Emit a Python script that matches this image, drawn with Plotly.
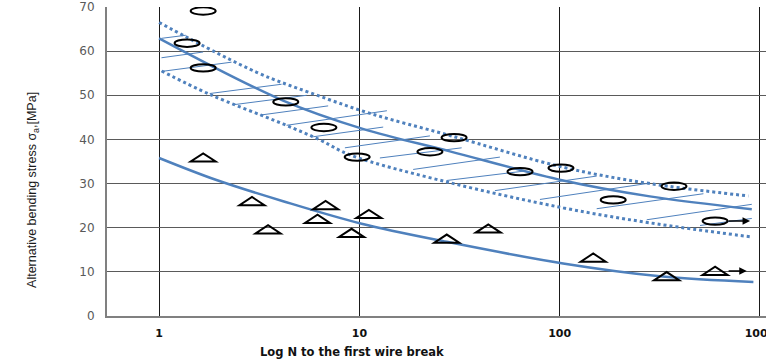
import numpy as np
import plotly.graph_objects as go

# ---------------- data ----------------
# test points, rope type A (circles)
circle_N = [1.66, 1.38, 1.66, 4.29, 6.65, 9.75, 22.5, 29.7, 63.4, 101.5, 372, 185, 597]
circle_sigma = [69.1, 61.8, 56.2, 48.5, 42.7, 36.0, 37.2, 40.4, 32.7, 33.5, 29.4, 26.3, 21.5]

# test points, rope type B (triangles)
tri_N = [1.66, 2.91, 3.50, 6.78, 6.18, 9.14, 11.15, 27.3, 44.0, 147, 342, 597]
tri_sigma = [35.9, 26.0, 19.6, 25.1, 22.0, 18.8, 23.1, 17.5, 19.8, 13.2, 9.0, 10.2]

# run-outs (arrows)
runout_start_N = [597, 597]
runout_end_N = [892, 859]
runout_sigma = [21.5, 10.2]

# mean curve, type A
upper_mean_N = [1, 4.16, 10.4, 28.3, 104, 282, 910]
upper_mean = [62.9, 48.8, 42.4, 37.3, 30.7, 27.1, 24.2]

# scatter band, type A
upper_band_N = [1, 3.07, 5.66, 11.3, 28.3, 104, 282, 875]
upper_band = [66.5, 55.2, 50.6, 45.9, 40.9, 33.7, 30.0, 27.2]
lower_band_N = [1.03, 1.79, 4.16, 6.35, 8.97, 28.3, 104, 282, 910]
lower_band = [55.5, 50.2, 43.5, 39.9, 36.5, 30.2, 24.5, 21.1, 17.9]

# mean curve, type B
lower_mean_N = [1, 1.935, 4.16, 10.26, 27.3, 104, 317, 927]
lower_mean = [35.8, 30.8, 26.0, 20.9, 16.8, 11.9, 9.0, 7.7]

# hatching of the scatter band (start N, start sigma, end N, end sigma)
hatch_N0 = [1.028, 1.028, 1.028, 1.79, 2.388, 3.184, 4.329, 5.877, 8.465, 12.66, 18.56, 27.3, 47.5, 79.7, 153, 272, 502]
hatch_s0 = [62.9, 58.5, 55.4, 50.4, 47.9, 45.5, 43.2, 40.6, 38.1, 35.8, 33.2, 30.7, 28.4, 26.4, 24.3, 21.8, 20.5]
hatch_N1 = [1.36, 1.659, 2.30, 4.088, 5.45, 6.985, 13.72, 13.15, 22.5, 32.4, 50.3, 65.8, 153, 272, 521.8, 910, 910]
hatch_s1 = [63.6, 59.8, 57.5, 52.5, 50.0, 47.6, 46.5, 42.8, 40.8, 38.1, 36.0, 32.8, 31.7, 30.0, 27.7, 25.3, 22.1]

x_tick_vals = [1, 10, 100, 1000]
x_tick_text = ["1", "10", "100", "1000"]
y_tick_vals = [0, 10, 20, 30, 40, 50, 60, 70]

# ---------------- figure ----------------
BLUE = "#4F81BD"
fig = go.Figure()

hx, hy = [], []
for a, b, c, d in zip(hatch_N0, hatch_s0, hatch_N1, hatch_s1):
    hx += [a, c, None]
    hy += [b, d, None]
fig.add_trace(go.Scatter(x=hx, y=hy, mode="lines", line=dict(color=BLUE, width=1),
                         hoverinfo="skip", showlegend=False))

fig.add_trace(go.Scatter(x=upper_band_N, y=upper_band, mode="lines", line_shape="spline",
                         line=dict(color=BLUE, width=3, dash="dot"), showlegend=False))
fig.add_trace(go.Scatter(x=lower_band_N, y=lower_band, mode="lines", line_shape="spline",
                         line=dict(color=BLUE, width=3, dash="dot"), showlegend=False))
fig.add_trace(go.Scatter(x=upper_mean_N, y=upper_mean, mode="lines", line_shape="spline",
                         line=dict(color=BLUE, width=2.5), showlegend=False))
fig.add_trace(go.Scatter(x=lower_mean_N, y=lower_mean, mode="lines", line_shape="spline",
                         line=dict(color=BLUE, width=2.5), showlegend=False))

# invisible hover carriers for the points
fig.add_trace(go.Scatter(x=circle_N, y=circle_sigma, mode="markers",
                         marker=dict(size=20, opacity=0), showlegend=False))
fig.add_trace(go.Scatter(x=tri_N, y=tri_sigma, mode="markers",
                         marker=dict(size=20, opacity=0), showlegend=False))

# flattened ellipse (bezier) and wide triangle, in pixels around each point
RX, RY, K = 12.5, 3.7, 0.5523
ellipse_path = (f"M {-RX},0 C {-RX},{K*RY} {-K*RX},{RY} 0,{RY} "
                f"C {K*RX},{RY} {RX},{K*RY} {RX},0 "
                f"C {RX},{-K*RY} {K*RX},{-RY} 0,{-RY} "
                f"C {-K*RX},{-RY} {-RX},{-K*RY} {-RX},0 Z")
triangle_path = "M -12.5,-4 L 12.5,-4 L 0,4.2 Z"

shapes = []
for n, s in zip(circle_N, circle_sigma):
    shapes.append(dict(type="path", xref="x", yref="y", xsizemode="pixel", ysizemode="pixel",
                       xanchor=n, yanchor=s, path=ellipse_path,
                       line=dict(color="black", width=2), layer="above"))
for n, s in zip(tri_N, tri_sigma):
    shapes.append(dict(type="path", xref="x", yref="y", xsizemode="pixel", ysizemode="pixel",
                       xanchor=n, yanchor=s, path=triangle_path,
                       line=dict(color="black", width=2), layer="above"))

annotations = []
for a, b, s in zip(runout_start_N, runout_end_N, runout_sigma):
    annotations.append(dict(x=np.log10(b), y=s, ax=np.log10(a), ay=s, xref="x", yref="y",
                            axref="x", ayref="y", text="", showarrow=True, arrowhead=2,
                            arrowsize=1, arrowwidth=1.5, arrowcolor="black", startstandoff=12))

annotations.append(dict(text="Alternative bending stress σ<sub>a</sub>,[MPa]", textangle=-90,
                        xref="paper", yref="paper", x=-0.1123, y=0.408, showarrow=False,
                        xanchor="center", yanchor="middle",
                        font=dict(family="Liberation Sans Narrow, Liberation Sans, sans-serif",
                                  size=12.5, color="#1a1a1a")))
annotations.append(dict(text="Log N to the first wire break", xref="paper", yref="paper",
                        x=0.372, y=-0.1165, showarrow=False, xanchor="center", yanchor="middle",
                        font=dict(family="DejaVu Sans", size=11.5, color="#111111", weight="bold")))

fig.update_layout(
    width=766, height=361,
    margin=dict(l=107, r=0, t=7, b=45, autoexpand=False),
    paper_bgcolor="white", plot_bgcolor="white",
    showlegend=False,
    shapes=shapes, annotations=annotations,
    xaxis=dict(type="log", range=[-0.26, 3.03], tickvals=x_tick_vals, ticktext=x_tick_text,
               showgrid=True, gridcolor="#1a1a1a", gridwidth=1, zeroline=False,
               showline=True, linecolor="#808080", linewidth=1.5, automargin=False,
               ticks="outside", ticklen=6, tickcolor="rgba(0,0,0,0)",
               ticklabeloverflow="allow",
               tickfont=dict(family="DejaVu Sans", size=11, color="#111111", weight="bold")),
    yaxis=dict(range=[0, 70], tickvals=y_tick_vals, showgrid=True, gridcolor="#5a5a5a",
               gridwidth=1, zeroline=False, showline=True, linecolor="#808080", linewidth=2,
               automargin=False, ticks="outside", ticklen=8, tickcolor="rgba(0,0,0,0)",
               tickfont=dict(family="DejaVu Sans", size=12, color="#595959")),
)

fig.write_html("out.html", config={"displayModeBar": False},
               post_script="document.body.style.margin='0';")
